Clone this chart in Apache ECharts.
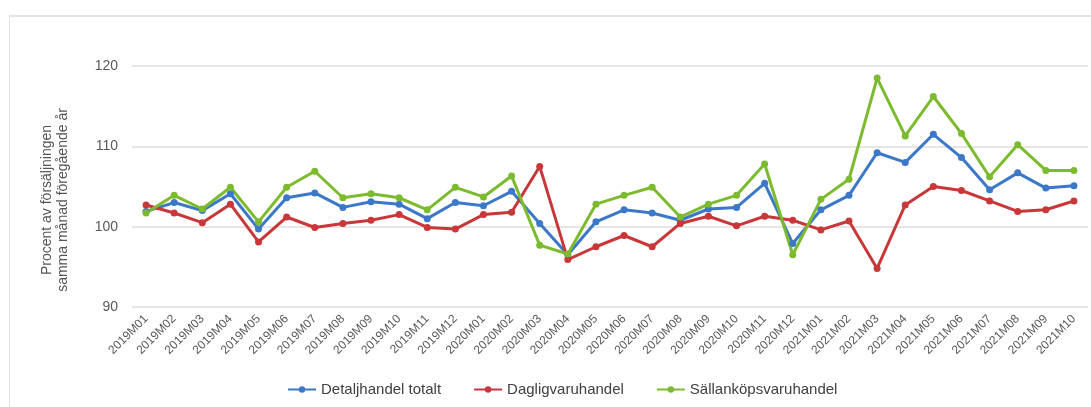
<!DOCTYPE html>
<html>
<head>
<meta charset="utf-8">
<script src="https://cdn.jsdelivr.net/npm/echarts@6/dist/echarts.min.js"></script>
<style>
  html, body { margin: 0; padding: 0; background: #fff; }
  #frame { position: absolute; left: 9px; top: 15px; width: 1100px; height: 420px;
    border-left: 1px solid #e4e4e4; border-top: 2px solid #e4e4e4; }
  #chart { position: absolute; left: 0; top: 0; width: 1091px; height: 407px; }
</style>
</head>
<body>
<div id="frame"></div>
<div id="chart"></div>
<script>
const months = [
  '2019M01','2019M02','2019M03','2019M04','2019M05','2019M06','2019M07','2019M08','2019M09','2019M10','2019M11','2019M12',
  '2020M01','2020M02','2020M03','2020M04','2020M05','2020M06','2020M07','2020M08','2020M09','2020M10','2020M11','2020M12',
  '2021M01','2021M02','2021M03','2021M04','2021M05','2021M06','2021M07','2021M08','2021M09','2021M10'
];
const detaljhandel = [
  101.9, 103.0, 102.0, 104.1, 99.7, 103.6, 104.2, 102.4, 103.1, 102.8, 101.0, 103.0,
  102.6, 104.4, 100.4, 96.5, 100.6, 102.1, 101.7, 100.8, 102.2, 102.4, 105.4, 97.9,
  102.1, 103.9, 109.2, 108.0, 111.5, 108.6, 104.6, 106.7, 104.8, 105.1
];
const dagligvaru = [
  102.7, 101.7, 100.5, 102.8, 98.1, 101.2, 99.9, 100.4, 100.8, 101.5, 99.9, 99.7,
  101.5, 101.8, 107.5, 95.9, 97.5, 98.9, 97.5, 100.4, 101.3, 100.1, 101.3, 100.8,
  99.6, 100.7, 94.8, 102.7, 105.0, 104.5, 103.2, 101.9, 102.1, 103.2
];
const sallankops = [
  101.7, 103.9, 102.2, 104.9, 100.6, 104.9, 106.9, 103.6, 104.1, 103.6, 102.1, 104.9,
  103.7, 106.3, 97.7, 96.6, 102.8, 103.9, 104.9, 101.2, 102.8, 103.9, 107.8, 96.5,
  103.4, 105.9, 118.5, 111.3, 116.2, 111.6, 106.2, 110.2, 107.0, 107.0
];
const seriesNames = ['Detaljhandel totalt', 'Dagligvaruhandel', 'Sällanköpsvaruhandel'];
const colors = ['#3b78c8', '#c8373a', '#7dbb2e'];
const yTicks = { min: 90, max: 120, interval: 10 };
const yTitle = ['Procent av försäljningen', 'samma månad föregående år'];

const font = "'Liberation Sans Narrow', 'Liberation Sans', Arial, sans-serif";
const chart = echarts.init(document.getElementById('chart'));

function line(name, data, color) {
  return {
    name, type: 'line', data,
    symbol: 'circle', symbolSize: 7,
    lineStyle: { color, width: 3 },
    itemStyle: { color },
    emphasis: { disabled: true }
  };
}

chart.setOption({
  animation: false,
  textStyle: { fontFamily: font },
  grid: { left: 132, right: 3, top: 66, bottom: 100 },
  legend: {
    bottom: 5, left: 282,
    itemWidth: 28, itemHeight: 8, itemGap: 32,
    textStyle: { color: '#404040', fontSize: 15, fontFamily: font }
  },
  graphic: [{
    type: 'text',
    style: {
      text: yTitle.join('\n'), fill: '#555', font: '14px ' + font,
      align: 'center', lineHeight: 16
    },
    rotation: Math.PI / 2, x: 39, y: 200
  }],
  xAxis: {
    type: 'category', data: months, boundaryGap: true,
    axisLine: { show: false }, axisTick: { show: false },
    axisLabel: { rotate: 45, interval: 0, color: '#595959', fontSize: 12, margin: 10 }
  },
  yAxis: {
    type: 'value', ...yTicks,
    axisLine: { show: false }, axisTick: { show: false },
    axisLabel: { color: '#595959', fontSize: 14, margin: 14 },
    splitLine: { lineStyle: { color: '#e2dcdc', width: 1.5 } }
  },
  series: [
    line(seriesNames[0], detaljhandel, colors[0]),
    line(seriesNames[1], dagligvaru, colors[1]),
    line(seriesNames[2], sallankops, colors[2])
  ]
});
</script>
</body>
</html>
